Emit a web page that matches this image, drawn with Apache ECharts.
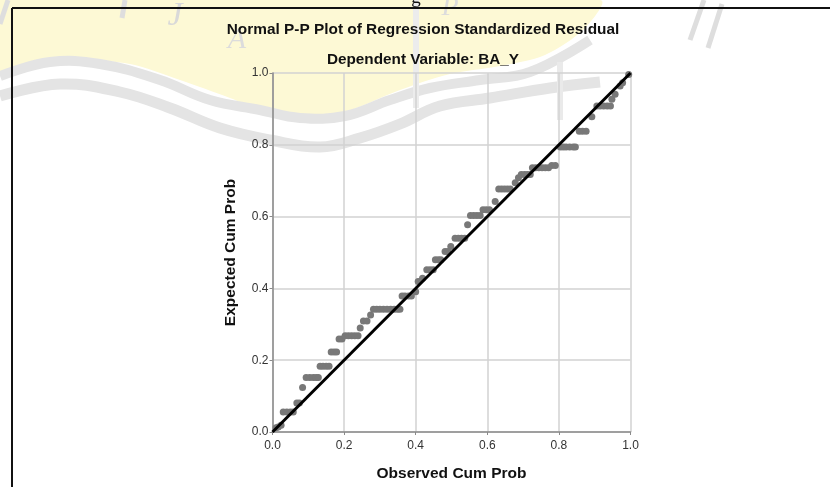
<!DOCTYPE html>
<html>
<head>
<meta charset="utf-8">
<script src="https://cdn.jsdelivr.net/npm/echarts@6/dist/echarts.min.js"></script>
<style>html,body{margin:0;padding:0;background:#fff;}#c{width:830px;height:487px;}</style>
</head>
<body>
<div id="c"></div>
<script>
var titleText = 'Normal P-P Plot of Regression Standardized Residual';
var subtitleText = 'Dependent Variable: BA_Y';
var xName = 'Observed Cum Prob';
var yName = 'Expected Cum Prob';
var tickValues = [0, 0.2, 0.4, 0.6, 0.8, 1.0];

var observedCumProb = [
  0.010,0.016,0.024,
  0.030,0.040,0.050,0.058,
  0.068,0.075,
  0.084,
  0.094,0.104,0.114,0.122,0.128,
  0.133,0.141,0.150,0.158,
  0.164,0.172,0.179,
  0.186,0.194,
  0.203,0.212,0.221,0.230,0.239,
  0.245,
  0.254,0.264,
  0.274,
  0.282,0.291,0.300,0.310,0.320,0.330,0.340,0.349,0.356,
  0.362,0.370,0.380,0.388,
  0.400,
  0.407,
  0.419,
  0.431,0.440,0.449,
  0.455,0.463,0.470,
  0.482,0.490,
  0.498,
  0.510,0.519,0.528,0.537,
  0.545,
  0.553,0.562,0.571,0.580,
  0.588,0.597,0.606,
  0.622,
  0.632,0.640,0.648,0.656,0.664,
  0.678,
  0.687,
  0.695,0.704,0.712,0.720,
  0.726,0.735,0.744,0.753,0.762,0.771,
  0.780,0.790,
  0.804,0.812,0.820,0.830,0.840,0.846,
  0.857,0.866,0.876,
  0.892,
  0.906,0.915,0.925,0.935,0.944,
  0.948,
  0.957,
  0.971,
  0.978,
  0.995
];
var expectedCumProb = [
  0.012,0.014,0.019,
  0.056,0.056,0.056,0.056,
  0.081,0.081,
  0.124,
  0.152,0.152,0.152,0.152,0.152,
  0.183,0.183,0.183,0.183,
  0.223,0.223,0.223,
  0.259,0.259,
  0.268,0.268,0.268,0.268,0.268,
  0.290,
  0.309,0.309,
  0.326,
  0.342,0.342,0.342,0.342,0.342,0.342,0.342,0.342,0.342,
  0.379,0.379,0.379,0.379,
  0.391,
  0.419,
  0.428,
  0.452,0.452,0.452,
  0.480,0.480,0.480,
  0.503,0.503,
  0.517,
  0.540,0.540,0.540,0.540,
  0.577,
  0.603,0.603,0.603,0.603,
  0.619,0.619,0.619,
  0.642,
  0.677,0.677,0.677,0.677,0.677,
  0.694,
  0.708,
  0.717,0.717,0.717,0.717,
  0.736,0.736,0.736,0.736,0.736,0.736,
  0.742,0.742,
  0.794,0.794,0.794,0.794,0.794,0.794,
  0.838,0.838,0.838,
  0.878,
  0.908,0.908,0.908,0.908,0.908,
  0.927,
  0.941,
  0.964,
  0.973,
  0.996
];
var refLine = [[0, 0], [1, 1]];

var points = observedCumProb.map(function (x, i) { return [x, expectedCumProb[i]]; });

var chart = echarts.init(document.getElementById('c'), null, {renderer: 'canvas'});
var FONT = '"Liberation Sans", Arial, sans-serif';

chart.setOption({
  animation: false,
  backgroundColor: '#ffffff',
  grid: {left: 272.5, right: 199.5, top: 73, bottom: 55, containLabel: false, outerBoundsMode: 'none'},
  xAxis: {
    type: 'value', min: 0, max: 1, interval: 0.2,
    name: xName, nameLocation: 'middle', nameGap: 34,
    nameTextStyle: {fontFamily: FONT, fontSize: 15.5, fontWeight: 'bold', color: '#111'},
    axisLine: {show: true, lineStyle: {color: '#8a8a8a', width: 1.5}},
    axisTick: {show: true, length: 3, lineStyle: {color: '#8a8a8a'}},
    axisLabel: {margin: 8, fontFamily: FONT, fontSize: 12, color: '#333',
      formatter: function (v) { return v.toFixed(1); }},
    splitLine: {show: true, lineStyle: {color: '#d2d2d2', width: 1.5}}
  },
  yAxis: {
    type: 'value', min: 0, max: 1, interval: 0.2,
    name: yName, nameLocation: 'middle', nameGap: 34, nameRotate: 90,
    nameTextStyle: {fontFamily: FONT, fontSize: 15.5, fontWeight: 'bold', color: '#111'},
    axisLine: {show: true, lineStyle: {color: '#8a8a8a', width: 1.5}},
    axisTick: {show: true, length: 3, lineStyle: {color: '#8a8a8a'}},
    axisLabel: {margin: 4, fontFamily: FONT, fontSize: 12, color: '#333',
      formatter: function (v) { return v.toFixed(1); }},
    splitLine: {show: true, lineStyle: {color: '#d2d2d2', width: 1.5}}
  },
  graphic: [
    {type: 'polygon', z: -5, shape: {smooth: 0.3, points: [[0,0],[600,0],[585,28],[545,55],[500,66],[450,74],[400,90],[340,114],[300,120],[260,110],[230,98],[180,80],[130,64],[80,60],[40,62],[0,72]]},
      style: {fill: '#fdf9d5', stroke: 'none'}},
    {type: 'polyline', z: -4, shape: {smooth: 0.4, points: [[0,76],[50,62],[100,64],[160,80],[210,100],[260,110],[300,118],[345,116],[390,100],[430,88],[480,80],[530,72],[590,40]]},
      style: {fill: 'none', stroke: '#e4e4e4', lineWidth: 10}},
    {type: 'polyline', z: -4, shape: {smooth: 0.4, points: [[0,96],[60,84],[120,92],[170,108],[220,128],[270,140],[320,147],[360,138],[400,124],[440,106],[490,98],[550,88],[600,82]]},
      style: {fill: 'none', stroke: '#e4e4e4', lineWidth: 11}},
    {type: 'line', z: -4, shape: {x1: 416, y1: 0, x2: 416, y2: 108}, style: {stroke: '#ececec', lineWidth: 6}},
    {type: 'line', z: -4, shape: {x1: 560, y1: 62, x2: 560, y2: 120}, style: {stroke: '#eaeaea', lineWidth: 6}},
    {type: 'line', z: -4, shape: {x1: 125, y1: 0, x2: 122, y2: 18}, style: {stroke: '#dedede', lineWidth: 5}},
    {type: 'line', z: -4, shape: {x1: 8, y1: 0, x2: 0, y2: 24}, style: {stroke: '#dedede', lineWidth: 5}},
    {type: 'line', z: -4, shape: {x1: 704, y1: 0, x2: 690, y2: 40}, style: {stroke: '#dedede', lineWidth: 5}},
    {type: 'line', z: -4, shape: {x1: 722, y1: 4, x2: 708, y2: 48}, style: {stroke: '#dedede', lineWidth: 5}},
    {type: 'text', z: -3, style: {x: 175, y: 16, text: 'J', align: 'center', verticalAlign: 'middle',
      font: 'italic 34px "Liberation Serif", serif', fill: '#d9d9d9'}},
    {type: 'text', z: -3, style: {x: 237, y: 40, text: 'A', align: 'center', verticalAlign: 'middle',
      font: 'italic 30px "Liberation Serif", serif', fill: '#dcdcdc'}},
    {type: 'text', z: -3, style: {x: 450, y: 8, text: 'P', align: 'center', verticalAlign: 'middle',
      font: 'italic 28px "Liberation Serif", serif', fill: '#dcdcdc'}},
    {type: 'text', z: 1, style: {x: 416, y: -11, text: 'g', align: 'center', verticalAlign: 'top',
      font: '19px "Liberation Serif", serif', fill: '#111'}},
    {type: 'line', z: 10, shape: {x1: 12, y1: 8, x2: 830, y2: 8}, style: {stroke: '#111', lineWidth: 2}},
    {type: 'line', z: 10, shape: {x1: 12, y1: 8, x2: 12, y2: 487}, style: {stroke: '#111', lineWidth: 2}},
    {type: 'text', z: 10, style: {x: 423, y: 30, text: titleText, align: 'center', verticalAlign: 'middle',
      font: 'bold 15.4px ' + FONT, fill: '#111'}},
    {type: 'text', z: 10, style: {x: 423, y: 60, text: subtitleText, align: 'center', verticalAlign: 'middle',
      font: 'bold 15.3px ' + FONT, fill: '#111'}}
  ],
  series: [
    {type: 'scatter', data: points, symbol: 'circle', symbolSize: 7,
      itemStyle: {color: '#787878', opacity: 1}, z: 2, silent: true},
    {type: 'line', data: refLine, symbol: 'none', z: 3, silent: true,
      lineStyle: {color: '#000', width: 3}}
  ]
});
</script>
</body>
</html>
